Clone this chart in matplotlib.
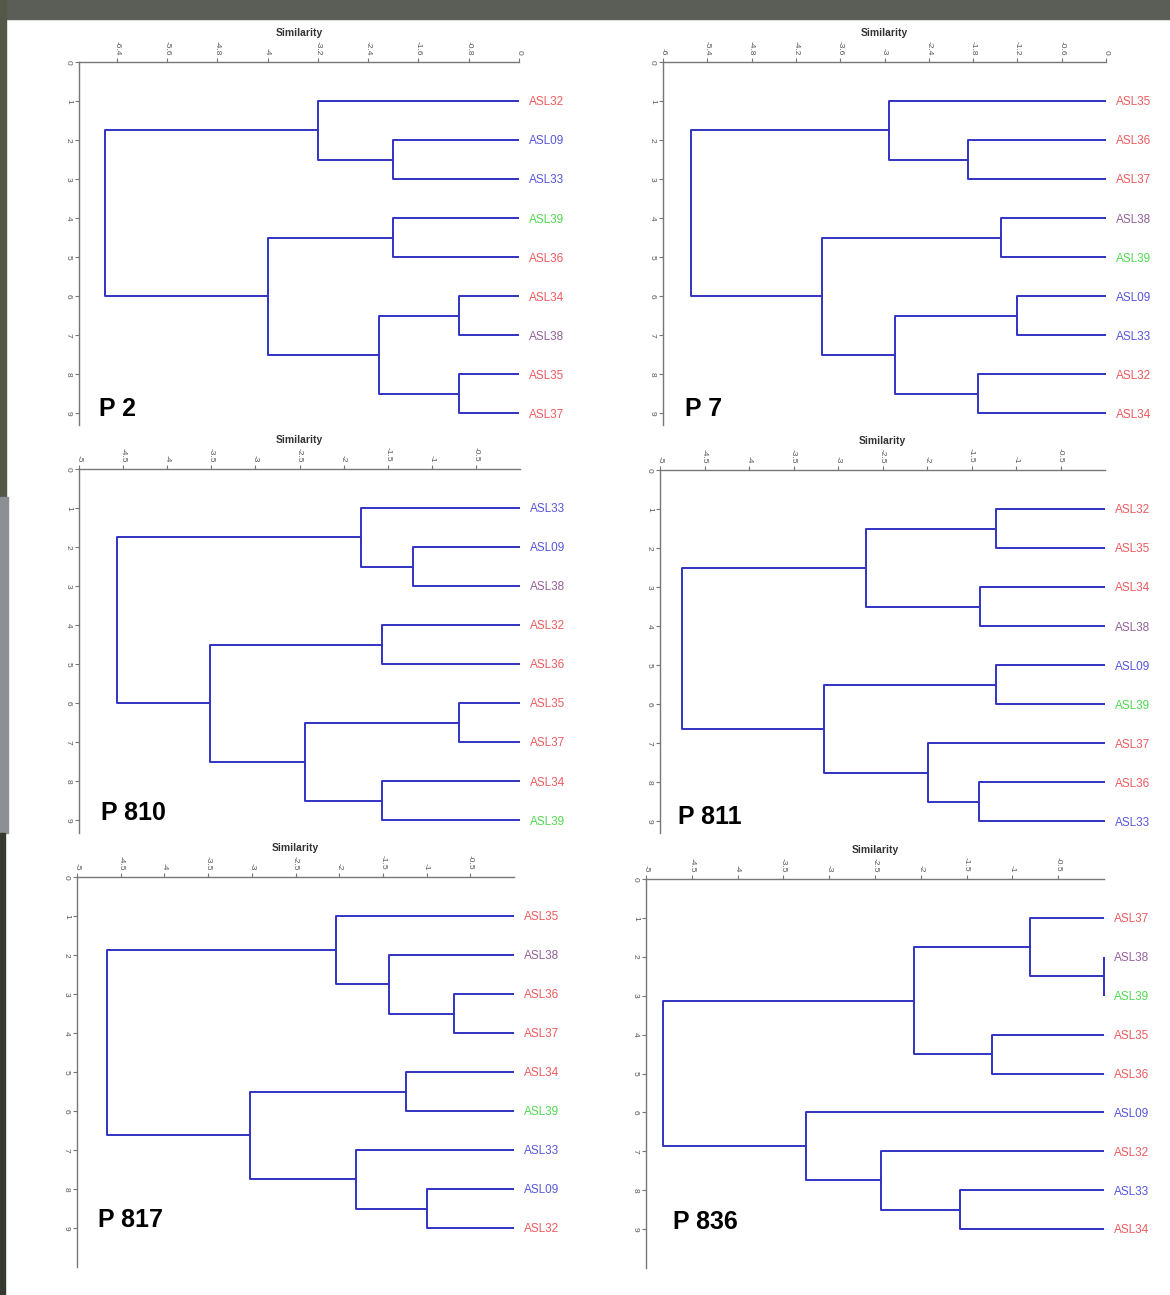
import matplotlib
matplotlib.use('Agg')
import matplotlib.pyplot as plt
from matplotlib.patches import Rectangle

plt.rcParams['font.family'] = ['Liberation Sans', 'DejaVu Sans']

# leaf colours by isolate
leaf_colors = {
    'ASL09': '#5656dc', 'ASL33': '#5656dc',
    'ASL32': '#ee5a5e', 'ASL34': '#ee5a5e', 'ASL35': '#ee5a5e',
    'ASL36': '#ee5a5e', 'ASL37': '#ee5a5e',
    'ASL38': '#94609a', 'ASL39': '#4fd84f',
}

# merges are (child a, child b, similarity); children >= 9 are earlier merges
# P 2
leaves_p2 = ['ASL32', 'ASL09', 'ASL33', 'ASL39', 'ASL36', 'ASL34', 'ASL38', 'ASL35', 'ASL37']
merges_p2 = [(1, 2, -2.0), (0, 9, -3.19), (3, 4, -2.0), (5, 6, -0.96), (7, 8, -0.96),
             (12, 13, -2.22), (11, 14, -3.99), (10, 15, -6.58)]
ticks_p2 = [-6.4, -5.6, -4.8, -4, -3.2, -2.4, -1.6, -0.8, 0]
ticklabels_p2 = ['-6.4', '-5.6', '-4.8', '-4', '-3.2', '-2.4', '-1.6', '-0.8', '0']

# P 7
leaves_p7 = ['ASL35', 'ASL36', 'ASL37', 'ASL38', 'ASL39', 'ASL09', 'ASL33', 'ASL32', 'ASL34']
merges_p7 = [(1, 2, -1.87), (0, 9, -2.94), (3, 4, -1.42), (5, 6, -1.21), (7, 8, -1.73),
             (12, 13, -2.86), (11, 14, -3.85), (10, 15, -5.62)]
ticks_p7 = [-6, -5.4, -4.8, -4.2, -3.6, -3, -2.4, -1.8, -1.2, -0.6, 0]
ticklabels_p7 = ['-6', '-5.4', '-4.8', '-4.2', '-3.6', '-3', '-2.4', '-1.8', '-1.2', '-0.6', '0']

# P 810
leaves_p810 = ['ASL33', 'ASL09', 'ASL38', 'ASL32', 'ASL36', 'ASL35', 'ASL37', 'ASL34', 'ASL39']
merges_p810 = [(1, 2, -1.21), (0, 9, -1.80), (3, 4, -1.56), (5, 6, -0.69), (7, 8, -1.57),
               (12, 13, -2.44), (11, 14, -3.51), (10, 15, -4.57)]

# P 811
leaves_p811 = ['ASL32', 'ASL35', 'ASL34', 'ASL38', 'ASL09', 'ASL39', 'ASL37', 'ASL36', 'ASL33']
merges_p811 = [(0, 1, -1.22), (2, 3, -1.41), (9, 10, -2.69), (4, 5, -1.22), (7, 8, -1.42),
               (6, 13, -1.99), (12, 14, -3.16), (11, 15, -4.75)]

# P 817
leaves_p817 = ['ASL35', 'ASL38', 'ASL36', 'ASL37', 'ASL34', 'ASL39', 'ASL33', 'ASL09', 'ASL32']
merges_p817 = [(2, 3, -0.69), (1, 9, -1.43), (0, 10, -2.04), (4, 5, -1.23), (7, 8, -1.0),
               (6, 13, -1.81), (12, 14, -3.02), (11, 15, -4.66)]

# P 836
leaves_p836 = ['ASL37', 'ASL38', 'ASL39', 'ASL35', 'ASL36', 'ASL09', 'ASL32', 'ASL33', 'ASL34']
merges_p836 = [(1, 2, 0.0), (0, 9, -0.81), (3, 4, -1.22), (10, 11, -2.07), (7, 8, -1.57),
               (6, 13, -2.43), (5, 14, -3.25), (12, 15, -4.81)]

ticks_5 = [-5, -4.5, -4, -3.5, -3, -2.5, -2, -1.5, -1, -0.5]
ticklabels_5 = ['-5', '-4.5', '-4', '-3.5', '-3', '-2.5', '-2', '-1.5', '-1', '-0.5']

W, H = 1170, 1295
fig = plt.figure(figsize=(W / 100, H / 100), dpi=100, facecolor='white')

# dark slide border bits
for (x0, y0, w, h, c) in [(0, 0, W, 19, '#5a5e56'), (0, 0, 6, 497, '#545846'),
                          (0, 497, 8, 336, '#8c9094'), (0, 833, 5, 462, '#36392d')]:
    fig.patches.append(Rectangle((x0 / W, 1 - (y0 + h) / H), w / W, h / H,
                                 transform=fig.transFigure, color=c, zorder=0))

LINE = '#3232c4'


def draw_dendro(box, xmin, ymax, leaves, merges, ticks, ticklabels, name, name_xy):
    l, t, r, b = box
    ax = fig.add_axes([l / W, 1 - b / H, (r - l) / W, (b - t) / H])
    n = len(leaves)
    pos = {i: (0.0, i + 1.0) for i in range(n)}
    for k, (a, c, h) in enumerate(merges):
        xa, ya = pos[a]
        xc, yc = pos[c]
        ax.plot([xa, h, h, xc], [ya, ya, yc, yc], color=LINE, lw=1.4,
                solid_capstyle='butt', clip_on=False)
        pos[n + k] = (h, (ya + yc) / 2)
    for i, leaf in enumerate(leaves):
        ax.annotate(leaf, xy=(0, i + 1), xytext=(7, -1), textcoords='offset points',
                    va='center', ha='left', fontsize=8.5, color=leaf_colors[leaf],
                    annotation_clip=False)
    ax.set_xlim(xmin, 0)
    ax.set_ylim(ymax, 0)
    ax.xaxis.tick_top()
    ax.xaxis.set_label_position('top')
    ax.set_xticks(ticks)
    ax.set_xticklabels(ticklabels, rotation=270, fontsize=6, color='#555555')
    ax.set_yticks(range(10))
    ax.set_yticklabels([str(v) for v in range(10)], rotation=270, fontsize=6,
                       color='#555555', va='center')
    ax.tick_params(length=3, width=0.8, color='#777777', pad=2)
    ax.set_xlabel('Similarity', fontsize=7.5, fontweight='bold', color='#333333', labelpad=3)
    for s in ['right', 'bottom']:
        ax.spines[s].set_visible(False)
    for s in ['left', 'top']:
        ax.spines[s].set_color('#777777')
        ax.spines[s].set_linewidth(1.0)
    ax.patch.set_alpha(0)
    fig.text(name_xy[0] / W, 1 - name_xy[1] / H, name, fontsize=18, fontweight='bold',
             va='center', ha='left')


draw_dendro((79, 62, 519, 425), -7, 9.3, leaves_p2, merges_p2,
            ticks_p2, ticklabels_p2, 'P 2', (99, 409))
draw_dendro((663, 62, 1106, 425), -6, 9.3, leaves_p7, merges_p7,
            ticks_p7, ticklabels_p7, 'P 7', (685, 409))
draw_dendro((79, 469, 520, 833), -5, 9.33, leaves_p810, merges_p810,
            ticks_5, ticklabels_5, 'P 810', (101, 813))
draw_dendro((660, 470, 1105, 833), -5, 9.3, leaves_p811, merges_p811,
            ticks_5, ticklabels_5, 'P 811', (678, 817))
draw_dendro((77, 877, 514, 1267), -5, 10, leaves_p817, merges_p817,
            ticks_5, ticklabels_5, 'P 817', (98, 1220))
draw_dendro((646, 879, 1104, 1268), -5, 10, leaves_p836, merges_p836,
            ticks_5, ticklabels_5, 'P 836', (673, 1222))

fig.savefig('out.png', dpi=100, facecolor=fig.get_facecolor())
